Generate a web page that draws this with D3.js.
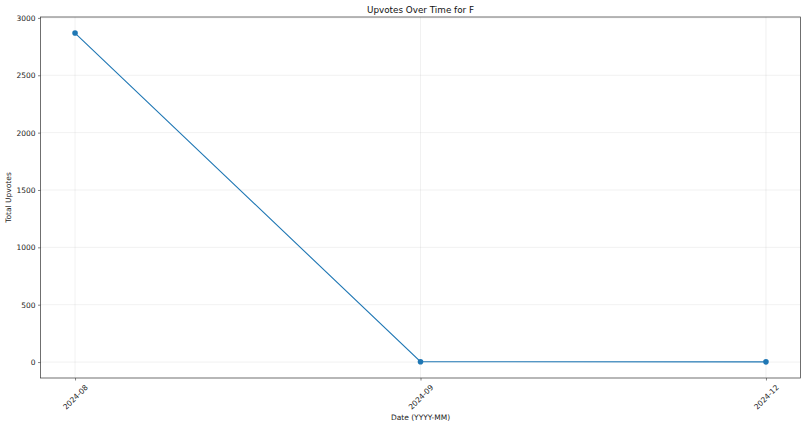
<!DOCTYPE html>
<html lang="en">
<head>
    <meta charset="UTF-8">
    <title>Upvotes Over Time for F</title>
    <script src="https://cdnjs.cloudflare.com/ajax/libs/d3/7.8.5/d3.min.js"></script>
    <style>
        body {
            margin: 0;
            padding: 0;
            background-color: white;
            font-family: "DejaVu Sans", sans-serif;
        }
    </style>
</head>
<body>
    <div id="chart"></div>

    <script>
        // Chart data
        const dates = ["2024-08", "2024-09", "2024-12"];
        const upvotes = [2868, 3, 2];
        const yTicks = [0, 500, 1000, 1500, 2000, 2500, 3000];

        const width = 806;
        const height = 427;
        const margin = {left: 40.5, right: 5.5, top: 17, bottom: 49};
        const fs = 7.5;

        const svg = d3.select("#chart")
            .append("svg")
            .attr("width", width)
            .attr("height", height);

        const x = d3.scaleLinear()
            .domain([-0.1, dates.length - 1 + 0.1])
            .range([margin.left, width - margin.right]);

        const y = d3.scaleLinear()
            .domain([-139, 3008])
            .range([height - margin.bottom, margin.top]);

        // grid
        svg.append("g")
            .selectAll("line")
            .data(yTicks)
            .join("line")
            .attr("x1", margin.left)
            .attr("x2", width - margin.right)
            .attr("y1", d => y(d))
            .attr("y2", d => y(d))
            .attr("stroke", "#b0b0b0")
            .attr("stroke-opacity", 0.3)
            .attr("stroke-width", 0.6);

        svg.append("g")
            .selectAll("line")
            .data(dates)
            .join("line")
            .attr("x1", (d, i) => x(i))
            .attr("x2", (d, i) => x(i))
            .attr("y1", margin.top)
            .attr("y2", height - margin.bottom)
            .attr("stroke", "#b0b0b0")
            .attr("stroke-opacity", 0.3)
            .attr("stroke-width", 0.6);

        // axes
        const yAxis = svg.append("g")
            .attr("transform", `translate(${margin.left},0)`)
            .call(d3.axisLeft(y).tickValues(yTicks).tickFormat(d3.format("d")).tickSize(2.5).tickPadding(2.5));

        const xAxis = svg.append("g")
            .attr("transform", `translate(0,${height - margin.bottom})`)
            .call(d3.axisBottom(x).tickValues(d3.range(dates.length)).tickFormat(i => dates[i]).tickSize(2.5));

        [yAxis, xAxis].forEach(g => {
            g.select(".domain").remove();
            g.selectAll(".tick line").attr("stroke", "#333").attr("stroke-width", 0.6);
            g.selectAll("text")
                .attr("font-family", "DejaVu Sans")
                .attr("font-size", fs)
                .attr("fill", "#222");
        });

        // rotated x labels, centred under the tick like matplotlib
        xAxis.selectAll(".tick text").each(function() {
            const t = d3.select(this);
            const len = this.getComputedTextLength();
            const half = (len + fs) * Math.SQRT1_2 / 2;
            t.attr("text-anchor", "middle")
                .attr("dominant-baseline", "central")
                .attr("y", null)
                .attr("dy", null)
                .attr("transform", `translate(0,${5.5 + half}) rotate(-45)`);
        });

        // frame
        svg.append("rect")
            .attr("x", margin.left)
            .attr("y", margin.top)
            .attr("width", width - margin.left - margin.right)
            .attr("height", height - margin.top - margin.bottom)
            .attr("fill", "none")
            .attr("stroke", "#333")
            .attr("stroke-width", 0.7);

        // line + markers
        const line = d3.line()
            .x((d, i) => x(i))
            .y(d => y(d));

        svg.append("path")
            .datum(upvotes)
            .attr("d", line)
            .attr("fill", "none")
            .attr("stroke", "#1f77b4")
            .attr("stroke-width", 1.1);

        svg.append("g")
            .selectAll("circle")
            .data(upvotes)
            .join("circle")
            .attr("cx", (d, i) => x(i))
            .attr("cy", d => y(d))
            .attr("r", 2.8)
            .attr("fill", "#1f77b4");

        // labels
        svg.append("text")
            .attr("x", (margin.left + width - margin.right) / 2)
            .attr("y", 13)
            .attr("text-anchor", "middle")
            .attr("font-size", 8.8)
            .attr("fill", "#111")
            .text("Upvotes Over Time for F");

        svg.append("text")
            .attr("x", (margin.left + width - margin.right) / 2)
            .attr("y", 420)
            .attr("text-anchor", "middle")
            .attr("font-size", fs)
            .attr("fill", "#222")
            .text("Date (YYYY-MM)");

        svg.append("text")
            .attr("transform", `translate(11,${(margin.top + height - margin.bottom) / 2}) rotate(-90)`)
            .attr("text-anchor", "middle")
            .attr("font-size", fs)
            .attr("fill", "#222")
            .text("Total Upvotes");
    </script>
</body>
</html>
